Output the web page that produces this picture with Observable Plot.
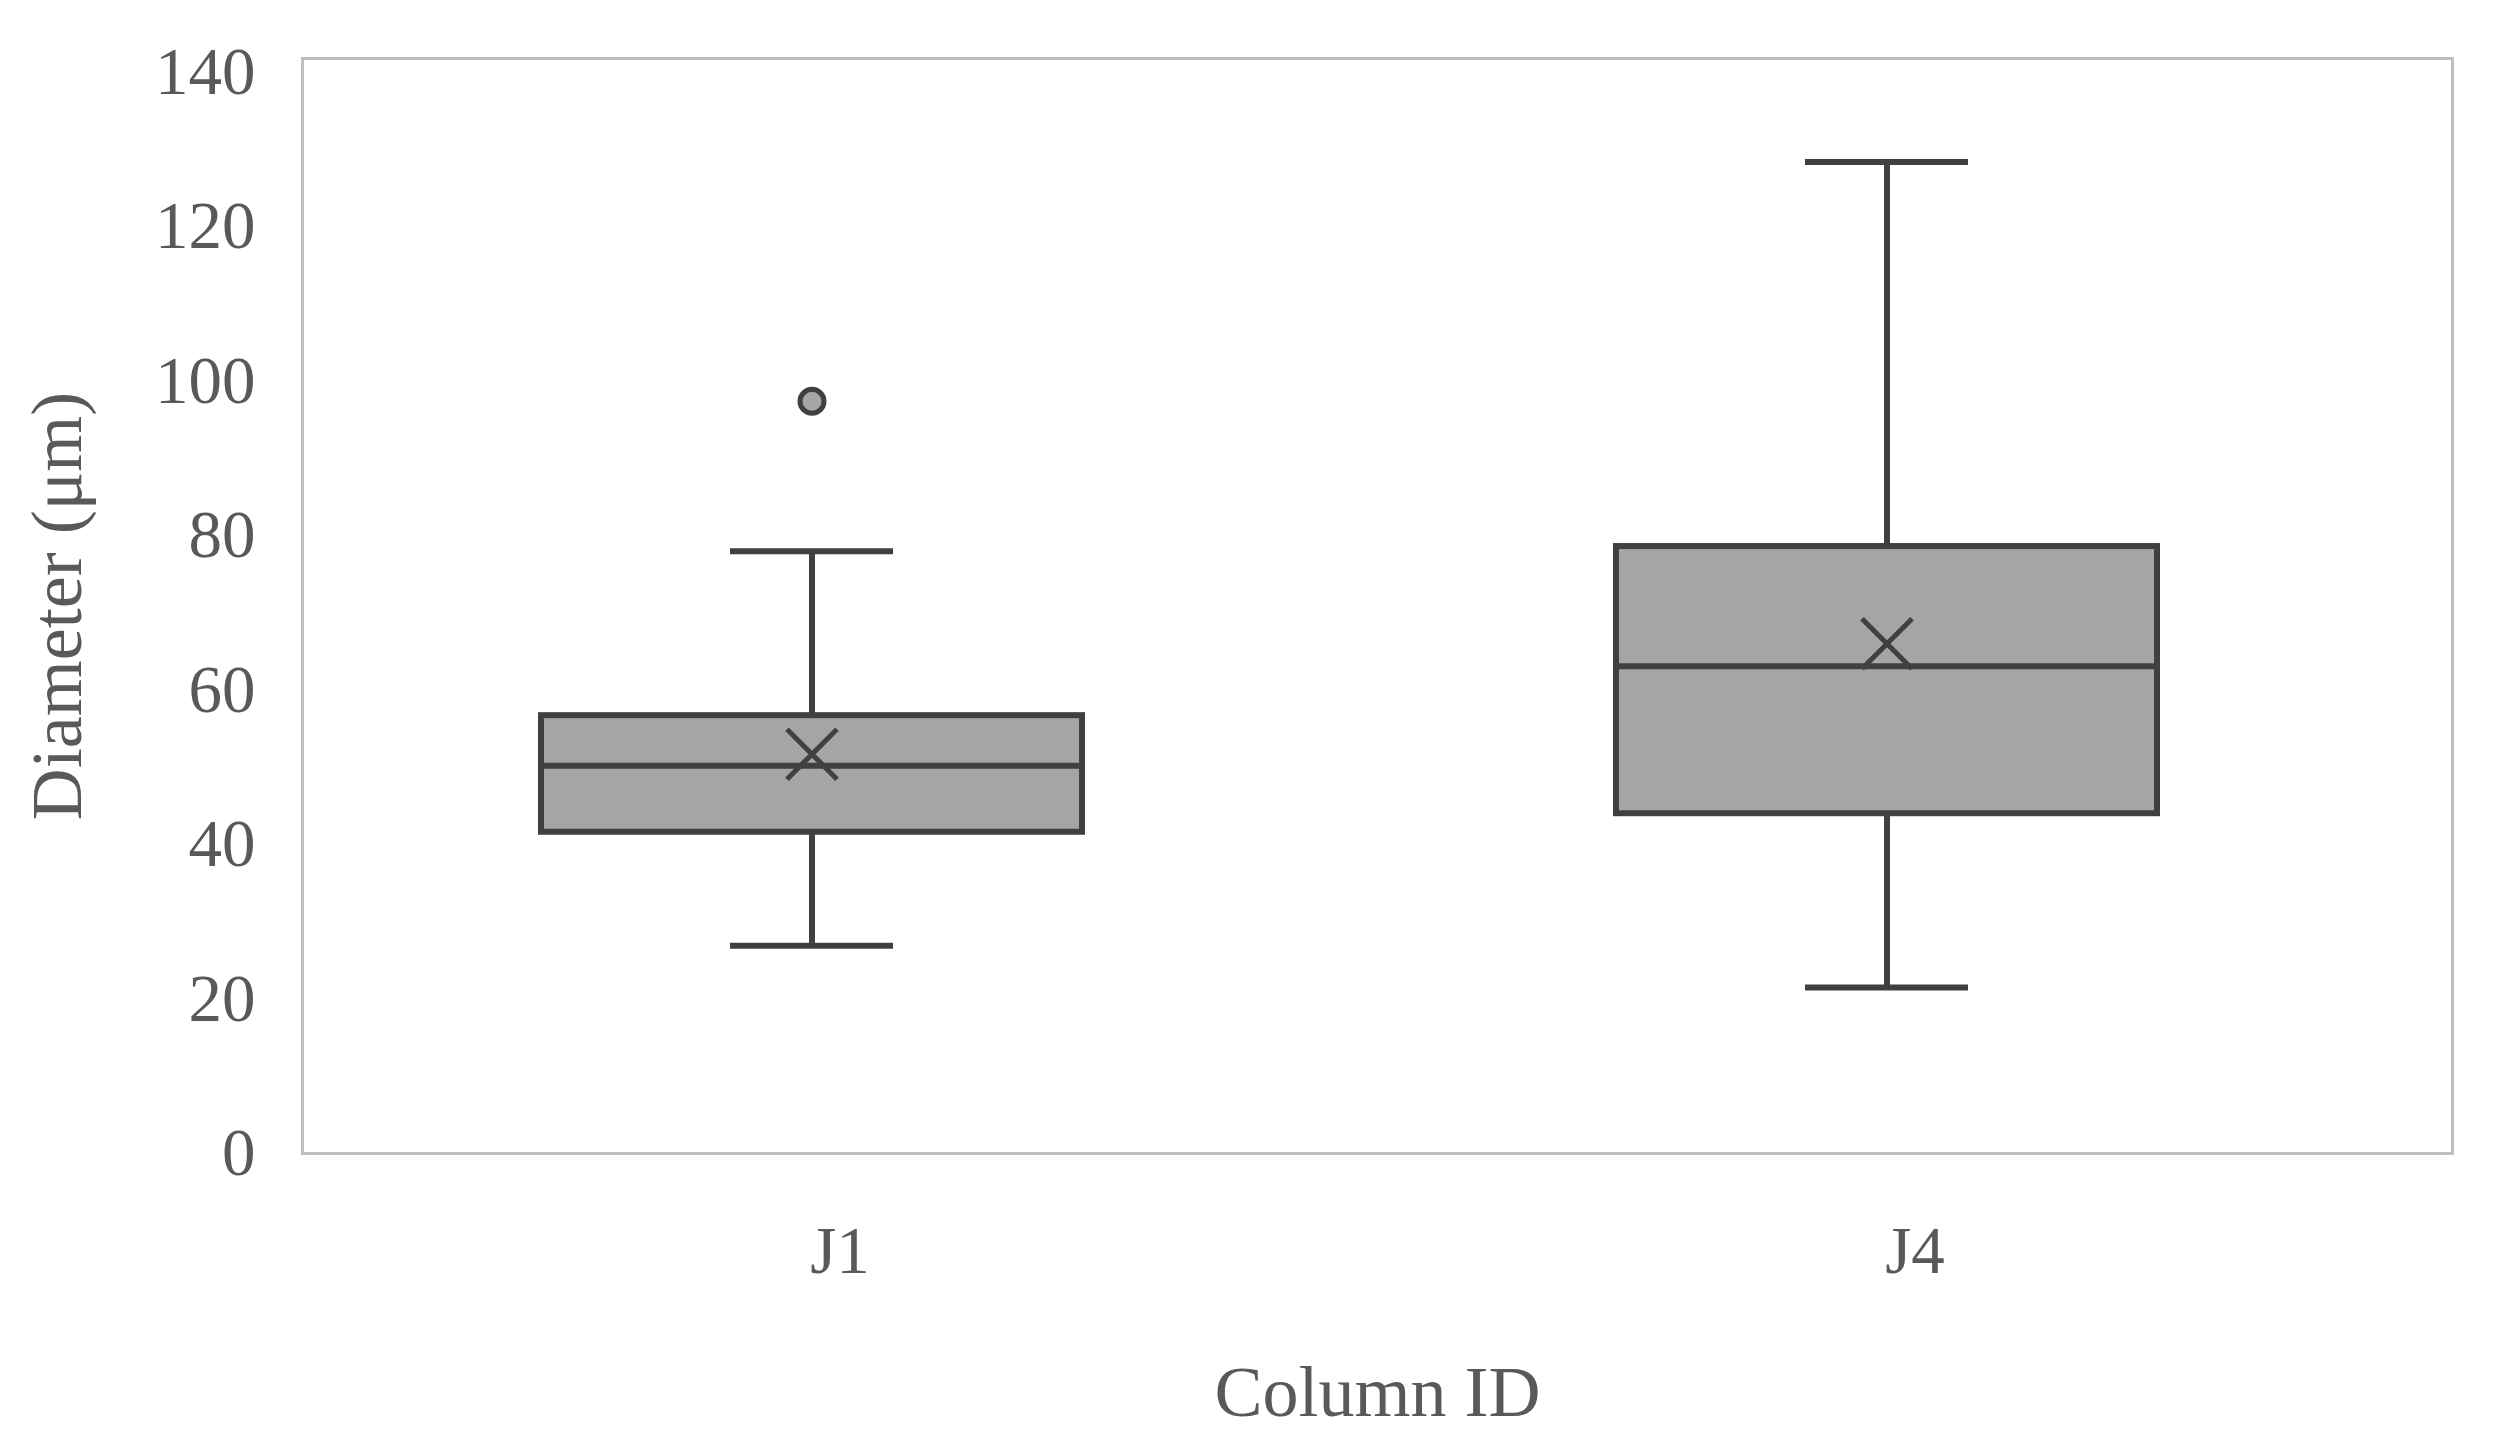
<!DOCTYPE html>
<html>
<head>
<meta charset="utf-8">
<script src="https://cdn.jsdelivr.net/npm/d3@7"></script>
<script src="https://cdn.jsdelivr.net/npm/@observablehq/plot@0.6"></script>
<style>
  html, body { margin: 0; padding: 0; background: #ffffff; }
</style>
</head>
<body>
<div id="chart"></div>
<script>
// ---- Data ----
const columns = ["J1", "J4"];
const q1 = [41.6, 44.0];
const median = [50.2, 63.1];
const q3 = [56.7, 78.6];
const whiskerLow = [26.9, 21.5];
const whiskerHigh = [78.0, 128.4];
const mean = [51.7, 66.0];
const outlierColumn = ["J1"];
const outlierValue = [97.4];
const yTicks = [0, 20, 40, 60, 80, 100, 120, 140];
const yTitle = "Diameter (μm)";
const xTitle = "Column ID";

// ---- Tables built from the arrays ----
const boxes = columns.map((id, i) => ({
  id, q1: q1[i], median: median[i], q3: q3[i],
  lo: whiskerLow[i], hi: whiskerHigh[i], mean: mean[i]
}));
const caps = boxes.flatMap(d => [{id: d.id, v: d.lo}, {id: d.id, v: d.hi}]);
const outliers = outlierColumn.map((id, i) => ({id, value: outlierValue[i]}));

const ink = "#404040";
const boxFill = "#a5a5a5";
const textColor = "#595959";
const shift = -28;
const sw = 6;

const chart = Plot.plot({
  width: 2495,
  height: 1451,
  marginLeft: 302,
  marginRight: 43,
  marginTop: 58,
  marginBottom: 298,
  style: { fontFamily: "'Liberation Serif', serif", background: "#ffffff", color: textColor },
  x: { type: "band", domain: columns, padding: 0 },
  y: { domain: [0, 141.8] },
  marks: [
    Plot.frame({ stroke: "#bfbfbf", strokeWidth: 3 }),
    Plot.axisY({ ticks: yTicks, tickSize: 0, tickPadding: 47, fontSize: 67, fill: textColor, label: null, tickFormat: d => String(d) }),
    Plot.axisX({ tickSize: 0, tickPadding: 72, fontSize: 67, fill: textColor, label: null }),
    Plot.text([yTitle], { frameAnchor: "left", textAnchor: "middle", rotate: -90, dx: -245, fontSize: 72, fill: textColor }),
    Plot.text([xTitle], { frameAnchor: "bottom", textAnchor: "middle", dy: 262, fontSize: 72, fill: textColor }),
    // whiskers
    Plot.ruleX(boxes, { x: "id", y1: "lo", y2: "hi", dx: shift, stroke: ink, strokeWidth: sw }),
    // whisker caps
    Plot.tickY(caps, { x: "id", y: "v", dx: shift, insetLeft: 456, insetRight: 456, stroke: ink, strokeWidth: sw }),
    // boxes
    Plot.barY(boxes, { x: "id", y1: "q1", y2: "q3", dx: shift, insetLeft: 267, insetRight: 267, fill: boxFill, stroke: ink, strokeWidth: sw }),
    // median
    Plot.tickY(boxes, { x: "id", y: "median", dx: shift, insetLeft: 267, insetRight: 267, stroke: ink, strokeWidth: sw }),
    // mean marker
    Plot.dot(boxes, { x: "id", y: "mean", dx: shift, symbol: "times", r: 22.8, stroke: ink, strokeWidth: 5 }),
    // outliers
    Plot.dot(outliers, { x: "id", y: "value", dx: shift, r: 12, fill: boxFill, stroke: ink, strokeWidth: 5 })
  ]
});
document.getElementById("chart").appendChild(chart);
</script>
</body>
</html>
